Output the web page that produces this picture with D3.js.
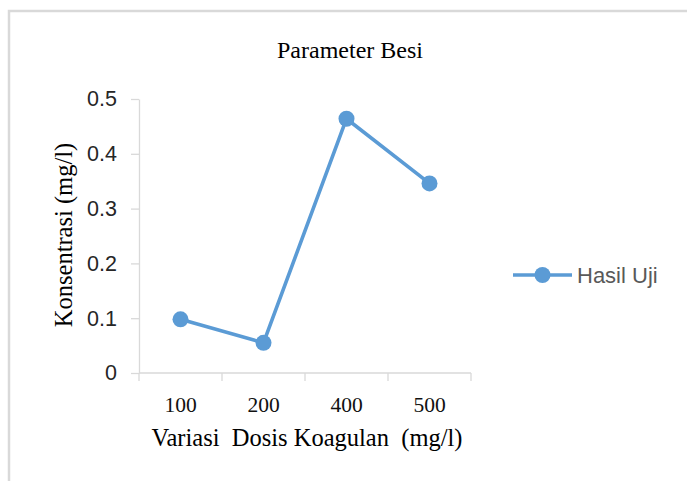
<!DOCTYPE html>
<html>
<head>
<meta charset="utf-8">
<script src="https://cdn.jsdelivr.net/npm/d3@7"></script>
<style>
  html, body { margin: 0; padding: 0; background: #fff; }
</style>
</head>
<body>
<svg id="chart"></svg>
<script>
// data
const categories = ["100", "200", "400", "500"]
const hasilUji = [0.098, 0.055, 0.464, 0.346]
const yTicks = [0, 0.1, 0.2, 0.3, 0.4, 0.5]

const width = 687, height = 481
const plot = {left: 139, right: 471, top: 99, bottom: 373}
const blue = "#5b9bd5"
const axisGrey = "#d9d9d9"

const svg = d3.select("#chart")
    .attr("width", width)
    .attr("height", height)

// chart frame (only top + left edges visible)
svg.append("path")
    .attr("d", `M9,${height} V11 H${width}`)
    .attr("fill", "none")
    .attr("stroke", axisGrey)
    .attr("stroke-width", 2.5)

const x = d3.scaleBand().domain(categories).range([plot.left, plot.right])
const y = d3.scaleLinear().domain([0, 0.5]).range([plot.bottom, plot.top])

// y axis
const yAxis = svg.append("g")
    .attr("transform", `translate(${plot.left},0)`)
    .call(d3.axisLeft(y).tickValues(yTicks).tickSize(8).tickSizeOuter(0).tickPadding(14)
        .tickFormat(d => d === 0 ? "0" : d3.format(".1f")(d)))
yAxis.select(".domain").attr("stroke", axisGrey).attr("stroke-width", 1.3)
yAxis.selectAll(".tick line").attr("stroke", axisGrey).attr("stroke-width", 1.3)
yAxis.selectAll(".tick text")
    .attr("fill", "#262626")
    .attr("font-family", "Liberation Sans, Arial, sans-serif")
    .attr("font-size", 21.5)

// x axis: line + ticks at category boundaries
const xg = svg.append("g").attr("transform", `translate(0,${plot.bottom})`)
xg.append("line")
    .attr("x1", plot.left).attr("x2", plot.right)
    .attr("stroke", axisGrey).attr("stroke-width", 1.3)
const edges = categories.map(c => x(c)).concat([x(categories[categories.length - 1]) + x.bandwidth()])
xg.selectAll(".edge")
    .data(edges)
    .join("line")
    .attr("class", "edge")
    .attr("x1", d => d).attr("x2", d => d)
    .attr("y1", 0).attr("y2", 8)
    .attr("stroke", axisGrey).attr("stroke-width", 1.3)
xg.selectAll(".lbl")
    .data(categories)
    .join("text")
    .attr("class", "lbl")
    .attr("x", d => x(d) + x.bandwidth() / 2)
    .attr("y", 39)
    .attr("text-anchor", "middle")
    .attr("font-family", "Liberation Serif, Times New Roman, serif")
    .attr("font-size", 21.5)
    .attr("fill", "#111")
    .text(d => d)

// titles
svg.append("text")
    .attr("x", 350).attr("y", 58)
    .attr("text-anchor", "middle")
    .attr("font-family", "Liberation Serif, Times New Roman, serif")
    .attr("font-size", 24)
    .text("Parameter Besi")

svg.append("text")
    .attr("x", 307).attr("y", 446)
    .attr("text-anchor", "middle")
    .attr("font-family", "Liberation Serif, Times New Roman, serif")
    .attr("font-size", 24.5)
    .attr("xml:space", "preserve")
    .text("Variasi  Dosis Koagulan  (mg/l)")

svg.append("text")
    .attr("transform", "translate(72,235) rotate(-90)")
    .attr("text-anchor", "middle")
    .attr("font-family", "Liberation Serif, Times New Roman, serif")
    .attr("font-size", 24.5)
    .text("Konsentrasi (mg/l)")

// series
const line = d3.line()
    .x((d, i) => x(categories[i]) + x.bandwidth() / 2)
    .y(d => y(d))

svg.append("path")
    .datum(hasilUji)
    .attr("d", line)
    .attr("fill", "none")
    .attr("stroke", blue)
    .attr("stroke-width", 3.6)
    .attr("stroke-linejoin", "round")

svg.append("g")
    .selectAll("circle")
    .data(hasilUji)
    .join("circle")
    .attr("cx", (d, i) => x(categories[i]) + x.bandwidth() / 2)
    .attr("cy", d => y(d))
    .attr("r", 8)
    .attr("fill", blue)

// legend
const lg = svg.append("g").attr("transform", "translate(513,275)")
lg.append("line").attr("x1", 0).attr("x2", 59).attr("stroke", blue).attr("stroke-width", 3.6)
lg.append("circle").attr("cx", 29.5).attr("r", 8).attr("fill", blue)
lg.append("text")
    .attr("x", 64).attr("y", 8)
    .attr("font-family", "Liberation Sans, Arial, sans-serif")
    .attr("font-size", 22)
    .attr("fill", "#595959")
    .text("Hasil Uji")
</script>
</body>
</html>
